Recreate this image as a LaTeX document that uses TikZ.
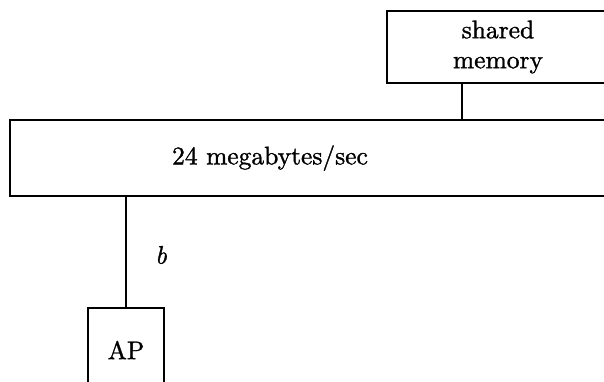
\documentclass[tikz,border=0pt]{standalone}
\usepackage{fontspec}
\setmainfont{lmroman10-regular}[Extension=.otf,ItalicFont=lmroman10-italic,BoldFont=lmroman10-bold,FakeBold=1.2,ItalicFeatures={FakeBold=1.2}]
\begin{document}
\begin{tikzpicture}[x=1pt,y=1pt,
  box/.style={draw,line width=1.7pt,inner sep=0pt,outer sep=0pt},
  wire/.style={line width=1.5pt},
  lbl/.style={font=\fontsize{25.5}{30}\selectfont,align=center,inner sep=0pt}]
\useasboundingbox (0,0) rectangle (604,-381);
\clip (0,0) rectangle (604,-381);
\node[box,minimum width=222pt,minimum height=72pt] (shm) at (498,-47) {};
\node[lbl] (shmtext) at (498,-47) {shared\\memory};
\node[box,minimum width=620pt,minimum height=76pt,anchor=north west] (bus) at (10,-120) {};
\node[lbl] (bustext) at (270,-158) {24 megabytes/sec};
\node[box,minimum width=76pt,minimum height=84pt,anchor=north] (ap) at (126,-308) {};
\node[lbl] (aptext) at (126,-350) {AP};
\coordinate (c1) at (462,0);
\draw[wire] (c1 |- shm.south) -- (c1 |- bus.north);
\draw[wire] (ap.north) -- (ap.north |- bus.south);
\node[lbl] (b) at (161,-255) {\itshape b};
\end{tikzpicture}
\end{document}
